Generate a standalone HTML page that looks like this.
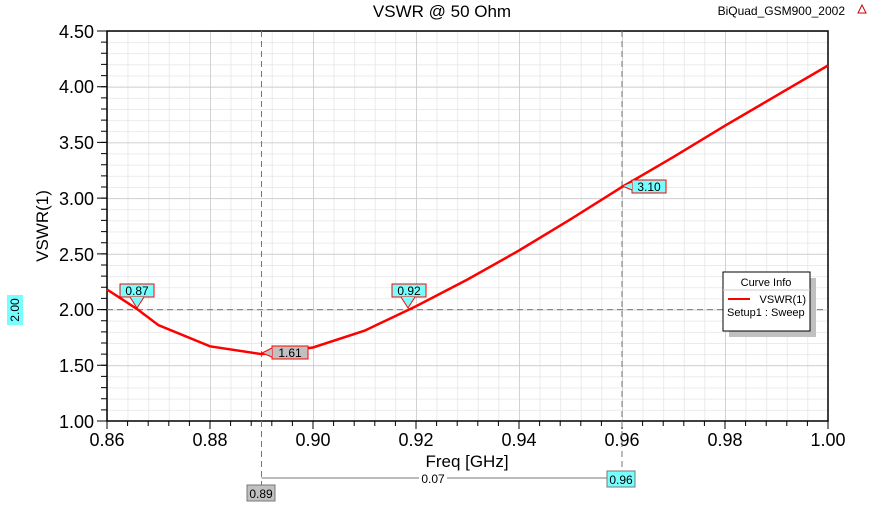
<!DOCTYPE html>
<html><head><style>
body{margin:0;background:#fff;}
svg{display:block;font-family:"Liberation Sans",sans-serif;}
</style></head><body>
<svg width="885" height="506" viewBox="0 0 885 506" xmlns="http://www.w3.org/2000/svg">
<defs>
<pattern id="mn" patternUnits="userSpaceOnUse" x="107" y="31" width="20.6" height="11.143">
<path d="M0 0 V11.143 M0 0 H20.6" stroke="#e4e4e4" stroke-width="1.5" fill="none"/>
</pattern>
<pattern id="mj" patternUnits="userSpaceOnUse" x="107" y="31" width="103" height="55.714">
<path d="M0 0 V55.714 M0 0 H103" stroke="#c8c8c8" stroke-width="1.5" fill="none"/>
</pattern>
</defs>
<rect width="885" height="506" fill="#fff"/>
<rect x="107" y="31" width="721" height="390" fill="url(#mn)"/>
<rect x="107" y="31" width="721" height="390" fill="url(#mj)"/>
<!-- ticks -->
<line x1="107" x2="829" y1="423.5" y2="423.5" stroke="#000" stroke-width="5" stroke-dasharray="1 19.6" transform="translate(-0.5 0)"/>
<line x1="107" x2="829" y1="425" y2="425" stroke="#000" stroke-width="8" stroke-dasharray="1 102" transform="translate(-0.5 0)"/>
<line x1="104" x2="104" y1="421" y2="30" stroke="#000" stroke-width="6" stroke-dasharray="1 10.143" transform="translate(0 0.5)"/>
<line x1="102" x2="102" y1="421" y2="30" stroke="#000" stroke-width="10" stroke-dasharray="1 54.714" transform="translate(0 0.5)"/>
<rect x="107" y="31" width="721" height="390" fill="none" stroke="#000" stroke-width="1.5"/>
<g font-size="18" text-anchor="end">
<text x="94" y="428">1.00</text><text x="94" y="372">1.50</text><text x="94" y="316">2.00</text><text x="94" y="261">2.50</text>
<text x="94" y="205">3.00</text><text x="94" y="149">3.50</text><text x="94" y="93">4.00</text><text x="94" y="38">4.50</text>
</g>
<g font-size="18" text-anchor="middle">
<text x="107" y="446">0.86</text><text x="210" y="446">0.88</text><text x="313" y="446">0.90</text><text x="416" y="446">0.92</text>
<text x="519" y="446">0.94</text><text x="622" y="446">0.96</text><text x="725" y="446">0.98</text><text x="828" y="446">1.00</text>
</g>
<text x="442" y="17" font-size="17" text-anchor="middle">VSWR @ 50 Ohm</text>
<text x="845" y="15" font-size="12" text-anchor="end">BiQuad_GSM900_2002</text>
<path d="M862 5 l-4 8 h8z" fill="none" stroke="#c00" stroke-width="1"/>
<text x="48" y="226" font-size="17" text-anchor="middle" transform="rotate(-90 48 226)">VSWR(1)</text>
<text x="467" y="467" font-size="17" text-anchor="middle">Freq [GHz]</text>
<!-- markers -->
<line x1="107" x2="828" y1="309.6" y2="309.6" stroke="#777" stroke-dasharray="6,4"/>
<line x1="261.5" x2="261.5" y1="31" y2="485" stroke="#777" stroke-dasharray="6,4"/>
<line x1="622" x2="622" y1="31" y2="471" stroke="#777" stroke-dasharray="6,4"/>
<line x1="261.5" x2="622" y1="478" y2="478" stroke="#777"/>
<rect x="419" y="471" width="28" height="14" fill="#fff"/><text x="433" y="483" font-size="12" text-anchor="middle">0.07</text>
<rect x="247" y="485" width="28" height="16" fill="#c0c0c0" stroke="#777"/><text x="261" y="498" font-size="12" text-anchor="middle">0.89</text>
<rect x="607" y="471" width="28" height="16" fill="#7ff" stroke="#777"/><text x="621" y="484" font-size="12" text-anchor="middle">0.96</text>
<rect x="7" y="295" width="16" height="30" fill="#7ff"/><text x="19" y="310" font-size="12" text-anchor="middle" transform="rotate(-90 19 310)">2.00</text>
<polyline fill="none" stroke="#f00" stroke-width="2.5" points="107,289.5 137.9,309.6 158.5,325.2 210,346.3 261.5,354.1 313,347.5 364.5,330.7 416,306.2 467.5,279.5 519,250.5 570.5,219.3 622,187 673.5,156.9 725,125.7 776.5,95.6 828,65.5"/>
<g font-size="12" text-anchor="middle">
<rect x="120" y="284" width="34" height="13" fill="#7ff" stroke="#f00"/><text x="137" y="295">0.87</text>
<path d="M130 297 L137 308 L144 297" fill="#7ff" stroke="#f00"/>
<rect x="392" y="284" width="34" height="13" fill="#7ff" stroke="#f00"/><text x="409" y="295">0.92</text>
<path d="M401 297 L408 308 L415 297" fill="#7ff" stroke="#f00"/>
<rect x="272" y="346" width="36" height="13" fill="#c0c0c0" stroke="#f00"/><text x="290" y="357">1.61</text>
<path d="M272 348 L262 353 L272 357" fill="#c0c0c0" stroke="#f00"/>
<rect x="632" y="180" width="34" height="13" fill="#7ff" stroke="#f00"/><text x="649" y="191">3.10</text>
<path d="M632 182 L622 186 L632 190" fill="#7ff" stroke="#f00"/>
</g>
<rect x="729" y="278" width="87" height="59" fill="#c0c0c0"/>
<rect x="723" y="272" width="87" height="59" fill="#fff" stroke="#000"/>
<line x1="723" x2="810" y1="290" y2="290" stroke="#ccc"/>
<text x="766" y="286" font-size="11" text-anchor="middle">Curve Info</text>
<line x1="728" x2="750" y1="299" y2="299" stroke="#f00" stroke-width="2"/>
<text x="806" y="303" font-size="11" text-anchor="end">VSWR(1)</text>
<text x="727" y="316" font-size="11">Setup1 : Sweep</text>
</svg>
</body></html>
